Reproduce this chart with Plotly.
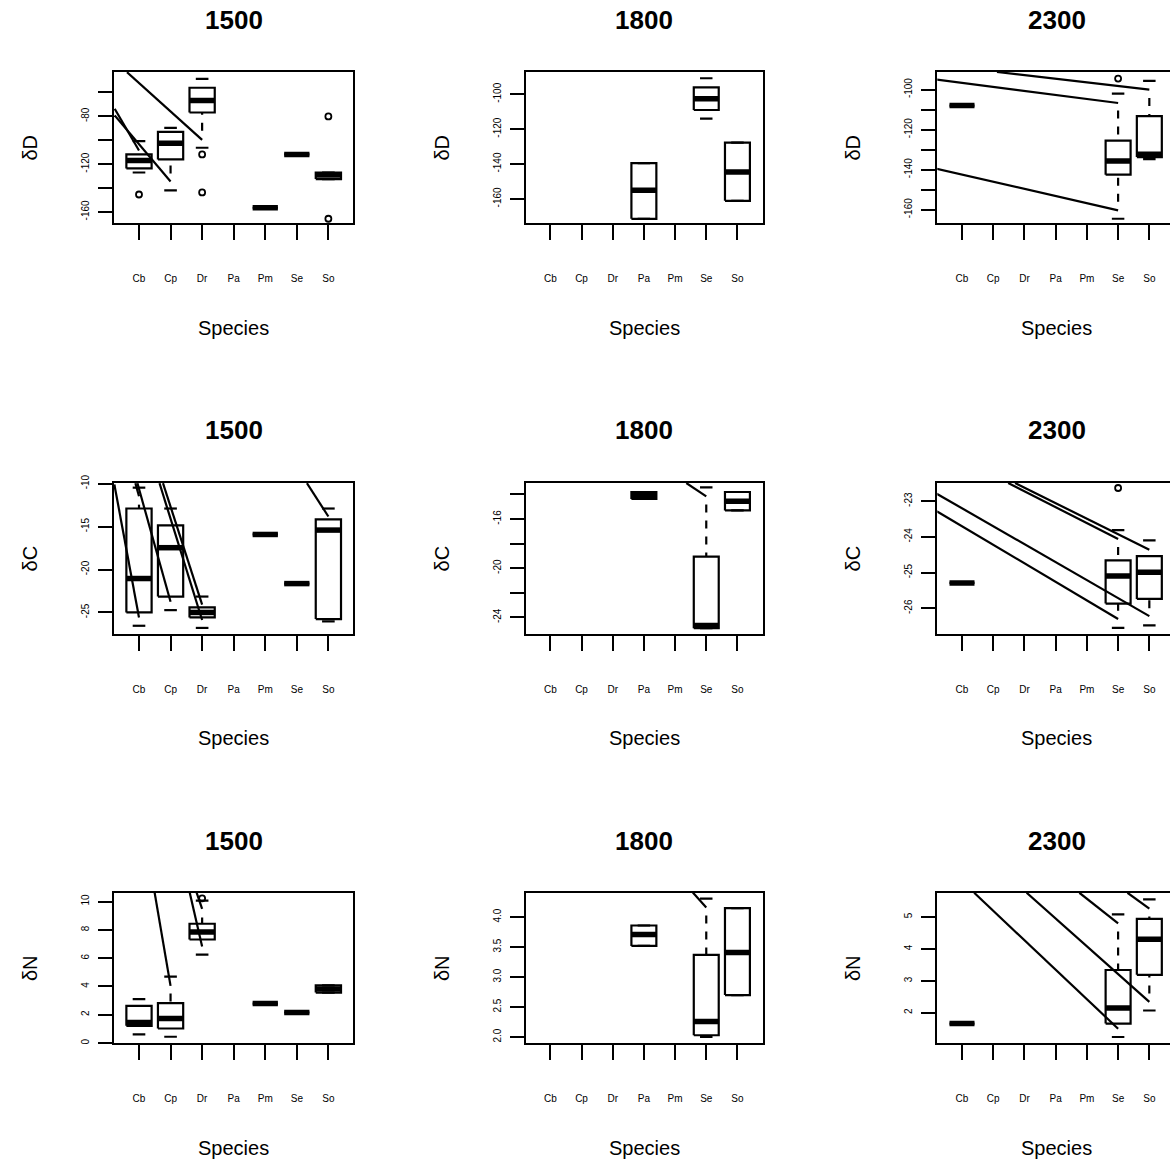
import plotly.graph_objects as go

# ---------------- data ----------------
species = ["Cb", "Cp", "Dr", "Pa", "Pm", "Se", "So"]
years = ["1500", "1800", "2300"]
isotopes = ["δD", "δC", "δN"]

# dD
dD_1500_lo  = [-127.0, -142.0, -106.3, None, -156.5, -111.9, -132.5]
dD_1500_q1  = [-123.6, -116.1, -76.8, None, -156.5, -111.9, -132.5]
dD_1500_med = [-116.9, -102.5, -66.8, None, -156.5, -111.9, -129.0]
dD_1500_q3  = [-111.9, -93.0, -56.1, None, -156.5, -111.9, -127.0]
dD_1500_hi  = [-100.8, -89.6, -48.7, None, -156.5, -111.9, -127.0]
dD_1500_out_sp = ["Cb", "Dr", "Dr", "So", "So"]
dD_1500_out_y  = [-145.4, -111.9, -143.7, -80.1, -165.7]

dD_1800_lo  = [None, None, None, -171.4, None, -113.9, -161.1]
dD_1800_q1  = [None, None, None, -171.4, None, -109.0, -161.1]
dD_1800_med = [None, None, None, -155.0, None, -102.5, -144.5]
dD_1800_q3  = [None, None, None, -139.5, None, -96.0, -127.7]
dD_1800_hi  = [None, None, None, -139.5, None, -90.8, -127.7]
dD_1800_out_sp = []
dD_1800_out_y  = []

dD_2300_lo  = [-108.0, None, None, None, None, -164.5, -134.7]
dD_2300_q1  = [-108.0, None, None, None, None, -142.5, -133.7]
dD_2300_med = [-108.0, None, None, None, None, -135.7, -132.3]
dD_2300_q3  = [-108.0, None, None, None, None, -125.5, -113.3]
dD_2300_hi  = [-108.0, None, None, None, None, -102.0, -95.7]
dD_2300_out_sp = ["Se"]
dD_2300_out_y  = [-94.5]

# dC
dC_1500_lo  = [-26.55, -24.73, -26.8, None, -15.92, -21.64, -26.04]
dC_1500_q1  = [-25.0, -23.15, -25.58, None, -15.92, -21.64, -25.77]
dC_1500_med = [-21.05, -17.46, -25.0, None, -15.92, -21.64, -15.41]
dC_1500_q3  = [-12.9, -14.87, -24.42, None, -15.92, -21.64, -14.17]
dC_1500_hi  = [-10.47, -12.9, -23.15, None, -15.92, -21.64, -12.9]
dC_1500_out_sp = []
dC_1500_out_y  = []

dC_1800_lo  = [None, None, None, -14.37, None, -24.89, -15.30]
dC_1800_q1  = [None, None, None, -14.37, None, -24.89, -15.30]
dC_1800_med = [None, None, None, -14.10, None, -24.67, -14.56]
dC_1800_q3  = [None, None, None, -13.80, None, -19.06, -13.80]
dC_1800_hi  = [None, None, None, -13.80, None, -13.43, -13.80]
dC_1800_out_sp = []
dC_1800_out_y  = []

dC_2300_lo  = [-25.29, None, None, None, None, -26.55, -26.48]
dC_2300_q1  = [-25.29, None, None, None, None, -25.87, -25.74]
dC_2300_med = [-25.29, None, None, None, None, -25.10, -24.99]
dC_2300_q3  = [-25.29, None, None, None, None, -24.66, -24.54]
dC_2300_hi  = [-25.29, None, None, None, None, -23.81, -24.10]
dC_2300_out_sp = ["Se"]
dC_2300_out_y  = [-22.63]

# dN
dN_1500_lo  = [0.61, 0.45, 6.25, None, 2.79, 2.16, 3.57]
dN_1500_q1  = [1.22, 1.03, 7.32, None, 2.79, 2.16, 3.57]
dN_1500_med = [1.46, 1.74, 7.84, None, 2.79, 2.16, 3.82]
dN_1500_q3  = [2.63, 2.82, 8.43, None, 2.79, 2.16, 4.08]
dN_1500_hi  = [3.10, 4.70, 10.07, None, 2.79, 2.16, 4.08]
dN_1500_out_sp = ["Dr"]
dN_1500_out_y  = [10.23]

dN_1800_lo  = [None, None, None, 3.52, None, 2.00, 2.70]
dN_1800_q1  = [None, None, None, 3.52, None, 2.03, 2.70]
dN_1800_med = [None, None, None, 3.71, None, 2.26, 3.41]
dN_1800_q3  = [None, None, None, 3.86, None, 3.37, 4.15]
dN_1800_hi  = [None, None, None, 3.86, None, 4.31, 4.15]
dN_1800_out_sp = []
dN_1800_out_y  = []

dN_2300_lo  = [1.66, None, None, None, None, 1.24, 2.07]
dN_2300_q1  = [1.66, None, None, None, None, 1.66, 3.19]
dN_2300_med = [1.66, None, None, None, None, 2.15, 4.30]
dN_2300_q3  = [1.66, None, None, None, None, 3.34, 4.94]
dN_2300_hi  = [1.66, None, None, None, None, 5.08, 5.55]
dN_2300_out_sp = []
dN_2300_out_y  = []

# stray straight strokes visible in the reference (x0, y0, x1, y1 in data units)
dD_1500_stray = [(0.62, -43.1, 3.0, -99.7), (0.23, -73.7, 1.0, -108.6), (0.23, -79.3, 2.0, -134.5)]
dD_1800_stray = []
dD_2300_stray = [(0.19, -95.0, 6.0, -106.7), (2.12, -91.2, 7.0, -100.0), (0.19, -139.5, 6.0, -160.3)]
dC_1500_stray = [(0.22, -10.1, 1.0, -25.58), (0.885, -9.95, 1.0, -11.47), (0.95, -9.95, 2.0, -23.76),
                 (1.76, -9.95, 3.0, -24.08), (1.65, -9.95, 3.0, -25.88), (6.32, -9.95, 7.0, -13.83)]
dC_1800_stray = [(5.36, -13.07, 6.0, -14.16)]
dC_2300_stray = [(0.19, -22.79, 7.0, -26.22), (0.19, -23.28, 6.0, -26.30),
                 (2.48, -22.49, 6.0, -24.06), (2.70, -22.49, 7.0, -24.36)]
dN_1500_stray = [(1.49, 10.7, 2.0, 4.04), (2.60, 10.7, 3.0, 6.83), (2.815, 10.7, 3.0, 9.48)]
dN_1800_stray = [(5.57, 4.41, 6.0, 4.16)]
dN_2300_stray = [(1.39, 5.76, 6.0, 1.50), (3.07, 5.76, 7.0, 2.34), (4.76, 5.76, 6.0, 4.80), (6.30, 5.76, 7.0, 5.26)]

# y-axis ranges, ticks and tick labels
dD_1500_yrange = [-169.4, -42.9]
dD_1500_ticks = [-160, -140, -120, -100, -80, -60]
dD_1500_ticklab = ["-160", "", "-120", "", "-80", ""]
dD_1800_yrange = [-173.9, -87.2]
dD_1800_ticks = [-160, -140, -120, -100]
dD_1800_ticklab = ["-160", "-140", "-120", "-100"]
dD_2300_yrange = [-166.7, -91.2]
dD_2300_ticks = [-160, -150, -140, -130, -120, -110, -100]
dD_2300_ticklab = ["-160", "", "-140", "", "-120", "", "-100"]
dC_1500_yrange = [-27.5, -9.93]
dC_1500_ticks = [-25, -20, -15, -10]
dC_1500_ticklab = ["-25", "-20", "-15", "-10"]
dC_1800_yrange = [-25.35, -13.07]
dC_1800_ticks = [-24, -22, -20, -18, -16, -14]
dC_1800_ticklab = ["-24", "", "-20", "", "-16", ""]
dC_2300_yrange = [-26.72, -22.49]
dC_2300_ticks = [-26, -25, -24, -23]
dC_2300_ticklab = ["-26", "-25", "-24", "-23"]
dN_1500_yrange = [-0.02, 10.62]
dN_1500_ticks = [0, 2, 4, 6, 8, 10]
dN_1500_ticklab = ["0", "2", "4", "6", "8", "10"]
dN_1800_yrange = [1.894, 4.406]
dN_1800_ticks = [2.0, 2.5, 3.0, 3.5, 4.0]
dN_1800_ticklab = ["2.0", "2.5", "3.0", "3.5", "4.0"]
dN_2300_yrange = [1.04, 5.76]
dN_2300_ticks = [2, 3, 4, 5]
dN_2300_ticklab = ["2", "3", "4", "5"]

# ---------------- layout geometry (px, as measured on the reference) ----------------
W, H = 1170, 1163
# the captured page maps figure px to picture px as: pic = OFF + SC * fig
OFF, SC = 9.0, 0.992
col_px = [(114.0, 353.0), (525.7, 762.7), (937.3, 1170.0)]
col_xrange = [[0.208, 7.78], [0.21, 7.81], [0.209, 7.662]]
col_center = [233.5, 644.2, 1056.5]
ylab_x = [30, 442, 853]
row_px = [(72.0, 223.3), (483.3, 634.3), (893.3, 1044.0)]
title_y = [20, 430, 842]
species_y = [328, 738, 1149]

LW = 2.2
MEDW = 5.5
BOXHALF = 0.4
CAPHALF = 0.2
FONT = "Liberation Sans, Arial, Helvetica, sans-serif"


def ypaper(py):
    return 1 - ((py - OFF) / SC) / H


G = globals()
fig = go.Figure()
layout = dict(width=W, height=H, margin=dict(l=0, r=0, t=0, b=0),
              paper_bgcolor="white", plot_bgcolor="white", showlegend=False,
              font=dict(family=FONT, color="black"))
annotations = []

for r, iso in enumerate(["dD", "dC", "dN"]):
    for c, yr in enumerate(years):
        k = r * 3 + c + 1
        key = f"{iso}_{yr}"
        lo, q1, med, q3, hi = (G[f"{key}_{s}"] for s in ["lo", "q1", "med", "q3", "hi"])
        out_sp, out_y = G[f"{key}_out_sp"], G[f"{key}_out_y"]
        stray = G[f"{key}_stray"]
        yrange = G[f"{key}_yrange"]
        xa = "x" if k == 1 else f"x{k}"
        ya = "y" if k == 1 else f"y{k}"
        pxu = (row_px[r][1] - row_px[r][0]) / (yrange[1] - yrange[0])

        bx, by, mx, my, cx, cy = [], [], [], [], [], []
        for i, sp in enumerate(species):
            if q1[i] is None:
                continue
            p = i + 1
            bx += [p - BOXHALF, p + BOXHALF, p + BOXHALF, p - BOXHALF, p - BOXHALF, None]
            by += [q1[i], q1[i], q3[i], q3[i], q1[i], None]
            mx += [p - BOXHALF, p + BOXHALF, None]
            my += [med[i], med[i], None]
            cx += [p - CAPHALF, p + CAPHALF, None, p - CAPHALF, p + CAPHALF, None]
            cy += [lo[i], lo[i], None, hi[i], hi[i], None]
            # dashed whiskers; the first dash next to the staple is missing in the reference
            for cap, hinge in ((lo[i], q1[i]), (hi[i], q3[i])):
                dist = abs(hinge - cap) * pxu
                if dist > 17:
                    sgn = 1 if hinge > cap else -1
                    start = cap + sgn * 17 / pxu
                    fig.add_trace(go.Scatter(x=[p, p], y=[start, hinge], mode="lines",
                                             line=dict(color="black", width=LW, dash="8px,8px"),
                                             xaxis=xa, yaxis=ya, hoverinfo="skip"))
        fig.add_trace(go.Scatter(x=cx, y=cy, mode="lines", line=dict(color="black", width=LW),
                                 xaxis=xa, yaxis=ya, hoverinfo="skip"))
        fig.add_trace(go.Scatter(x=bx, y=by, mode="lines", line=dict(color="black", width=LW),
                                 xaxis=xa, yaxis=ya, hoverinfo="skip"))
        fig.add_trace(go.Scatter(x=mx, y=my, mode="lines", line=dict(color="black", width=MEDW),
                                 xaxis=xa, yaxis=ya, hoverinfo="skip"))
        if out_sp:
            fig.add_trace(go.Scatter(x=[species.index(s) + 1 for s in out_sp], y=out_y, mode="markers",
                                     marker=dict(symbol="circle-open", size=6, color="black",
                                                 line=dict(width=1.8, color="black")),
                                     xaxis=xa, yaxis=ya, hoverinfo="skip"))
        sx, sy = [], []
        for (x0, y0, x1, y1) in stray:
            sx += [x0, x1, None]
            sy += [y0, y1, None]
        if sx:
            fig.add_trace(go.Scatter(x=sx, y=sy, mode="lines", line=dict(color="black", width=LW),
                                     xaxis=xa, yaxis=ya, hoverinfo="skip"))

        xl, xr = col_px[c]
        yt, yb = row_px[r]
        layout["xaxis" if k == 1 else f"xaxis{k}"] = dict(
            domain=[xl / W, min(xr / W, 1.0)], range=col_xrange[c], anchor=ya,
            tickmode="array", tickvals=list(range(1, 8)), ticktext=species,
            ticks="outside", ticklen=15, tickwidth=LW, tickcolor="black",
            showline=True, linewidth=LW, linecolor="black", mirror=True,
            showgrid=False, zeroline=False, tickfont=dict(size=10, family=FONT),
            ticklabelstandoff=30, fixedrange=True)
        layout["yaxis" if k == 1 else f"yaxis{k}"] = dict(
            domain=[ypaper(yb), ypaper(yt)], range=yrange, anchor=xa,
            tickmode="array", tickvals=G[f"{key}_ticks"], ticktext=G[f"{key}_ticklab"],
            ticks="outside", ticklen=14, tickwidth=LW, tickcolor="black", tickangle=-90,
            showline=True, linewidth=LW, linecolor="black", mirror=(c < 2),
            showgrid=False, zeroline=False, tickfont=dict(size=10, family=FONT),
            ticklabelstandoff=5, fixedrange=True)

        annotations.append(dict(text=f"<b>{yr}</b>", x=col_center[c] / W, y=ypaper(title_y[r]),
                                xref="paper", yref="paper", showarrow=False,
                                font=dict(size=26, family=FONT), xanchor="center", yanchor="middle"))
        annotations.append(dict(text="Species", x=col_center[c] / W, y=ypaper(species_y[r]),
                                xref="paper", yref="paper", showarrow=False,
                                font=dict(size=20, family=FONT), xanchor="center", yanchor="middle"))
        annotations.append(dict(text=isotopes[r], x=ylab_x[c] / W, y=ypaper((yt + yb) / 2),
                                xref="paper", yref="paper", showarrow=False, textangle=-90,
                                font=dict(size=20, family=FONT), xanchor="center", yanchor="middle"))

layout["annotations"] = annotations
fig.update_layout(**layout)
fig.write_html("out.html")
